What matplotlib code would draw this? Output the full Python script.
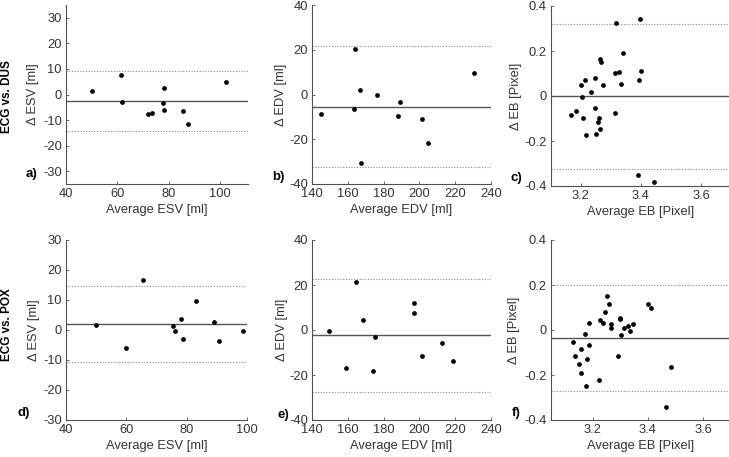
import numpy as np
import matplotlib.pyplot as plt
from matplotlib.ticker import FuncFormatter

# Datos (Bland-Altman): media de ambos metodos y diferencia

# ECG vs. DUS
esv_dus_x = [50.0, 61.4, 61.8, 71.8, 73.7, 77.8, 78.2, 78.4, 85.5, 87.7, 102.5]
esv_dus_y = [1.3, 7.7, -2.9, -7.5, -7.2, -3.2, -6.0, 2.5, -6.3, -11.6, 4.9]
esv_dus_lim = [-2.6, 9.1, -14.4]  # sesgo, limite superior, limite inferior

edv_dus_x = [145.0, 163.8, 163.6, 167.0, 167.4, 176.3, 188.2, 189.3, 201.3, 205.0, 230.3]
edv_dus_y = [-8.9, 20.4, -6.7, 1.9, -30.5, -0.1, -9.4, -3.3, -11.0, -21.6, 9.7]
edv_dus_lim = [-5.4, 21.8, -32.6]

eb_dus_x = [3.317, 3.396, 3.340, 3.262, 3.266, 3.313, 3.326, 3.399, 3.395, 3.332,
            3.273, 3.245, 3.214, 3.199, 3.232, 3.202, 3.165, 3.184, 3.206, 3.245,
            3.261, 3.258, 3.263, 3.216, 3.250, 3.312, 3.391, 3.444]
eb_dus_y = [0.323, 0.343, 0.190, 0.165, 0.151, 0.103, 0.108, 0.111, 0.072, 0.052,
            0.048, 0.079, 0.072, 0.049, 0.018, -0.004, -0.085, -0.067, -0.096, -0.055,
            -0.099, -0.117, -0.147, -0.172, -0.168, -0.075, -0.353, -0.380]
eb_dus_lim = [-0.002, 0.322, -0.326]

# ECG vs. POX
esv_pox_x = [50.0, 59.8, 65.4, 75.4, 76.2, 78.2, 78.7, 83.2, 89.1, 90.7, 98.7]
esv_pox_y = [1.7, -6.0, 16.8, 1.2, -0.3, 3.6, -3.1, 9.6, 2.8, -3.6, -0.2]
esv_pox_lim = [1.95, 14.6, -10.7]

edv_pox_x = [149.3, 158.8, 164.4, 168.7, 174.1, 175.0, 197.0, 197.2, 201.3, 212.6, 218.8]
edv_pox_y = [-0.4, -16.8, 21.4, 4.3, -18.4, -3.3, 12.2, 7.7, -11.7, -5.9, -13.8]
edv_pox_lim = [-2.3, 22.8, -27.4]

eb_pox_x = [3.130, 3.135, 3.151, 3.159, 3.159, 3.173, 3.176, 3.181, 3.189, 3.189,
            3.223, 3.227, 3.236, 3.246, 3.254, 3.261, 3.265, 3.267, 3.298, 3.300,
            3.302, 3.293, 3.312, 3.328, 3.334, 3.345, 3.399, 3.411, 3.483, 3.464]
eb_pox_y = [-0.052, -0.116, -0.153, -0.086, -0.193, -0.019, -0.249, -0.130, 0.030, -0.065,
            -0.224, 0.043, 0.031, 0.081, 0.150, 0.114, 0.025, 0.007, 0.047, 0.055,
            -0.022, -0.114, 0.010, 0.019, -0.003, 0.025, 0.114, 0.098, -0.164, -0.341]
eb_pox_lim = [-0.037, 0.199, -0.270]

plt.rcParams['font.family'] = ['Liberation Sans', 'DejaVu Sans']
plt.rcParams['axes.unicode_minus'] = False

gris = '#505050'
texto = '#333333'
W, H = 729, 457

fig = plt.figure(figsize=(W / 100, H / 100), dpi=100)


def caja(x0, y0, x1, y1):
    # rectangulo en pixeles -> fracciones de figura
    return [x0 / W, 1 - y1 / H, (x1 - x0) / W, (y1 - y0) / H]


'''
Dibujar un panel Bland-Altman
'''
def panel(pos, x, y, lim, xlim, ylim, xt, yt, xlab, ylab, ylab_x):
    ax = fig.add_axes(pos)
    ax.plot(x, y, 'o', color='black', markersize=2.4, zorder=3)
    ax.axhline(lim[0], color='#555555', lw=1.0)
    ax.axhline(lim[1], color='#888888', lw=0.8, ls=(0, (1, 1.5)))
    ax.axhline(lim[2], color='#888888', lw=0.8, ls=(0, (1, 1.5)))
    ax.set_xlim(xlim)
    ax.set_ylim(ylim)
    ax.set_xticks(xt)
    ax.set_yticks(yt)
    fmt = FuncFormatter(lambda v, p: '%g' % round(v, 6))
    ax.xaxis.set_major_formatter(fmt)
    ax.yaxis.set_major_formatter(fmt)
    for s in ['top', 'right']:
        ax.spines[s].set_visible(False)
    for s in ['left', 'bottom']:
        ax.spines[s].set_color(gris)
        ax.spines[s].set_linewidth(0.8)
    ax.tick_params(direction='in', length=2.5, width=0.6, color=gris,
                   labelsize=9.3, labelcolor=texto, pad=3)
    ax.set_xlabel(xlab, fontsize=9.3, color=texto, labelpad=3)
    ax.set_ylabel(ylab, fontsize=9.3, color=texto)
    ax.yaxis.set_label_coords(ylab_x, 0.5)
    return ax


# Fila superior: ECG vs. DUS
panel(caja(66, 5, 248, 184), esv_dus_x, esv_dus_y, esv_dus_lim, (40, 111), (-35, 35),
      [40, 60, 80, 100], [-30, -20, -10, 0, 10, 20, 30], 'Average ESV [ml]', '\u0394 ESV [ml]', -0.148)
panel(caja(312, 5, 491, 184), edv_dus_x, edv_dus_y, edv_dus_lim, (140, 240), (-40, 40),
      [140, 160, 180, 200, 220, 240], [-40, -20, 0, 20, 40], 'Average EDV [ml]', '\u0394 EDV [ml]', -0.14)
panel(caja(551, 6, 731, 186), eb_dus_x, eb_dus_y, eb_dus_lim, (3.1, 3.7), (-0.4, 0.4),
      [3.2, 3.4, 3.6], [-0.4, -0.2, 0, 0.2, 0.4], 'Average EB [Pixel]', '\u0394 EB [Pixel]', -0.161)

# Fila inferior: ECG vs. POX
panel(caja(66, 240, 247, 420), esv_pox_x, esv_pox_y, esv_pox_lim, (40, 100), (-30, 30),
      [40, 60, 80, 100], [-30, -20, -10, 0, 10, 20, 30], 'Average ESV [ml]', '\u0394 ESV [ml]', -0.144)
panel(caja(312, 240, 491, 420), edv_pox_x, edv_pox_y, edv_pox_lim, (140, 240), (-40, 40),
      [140, 160, 180, 200, 220, 240], [-40, -20, 0, 20, 40], 'Average EDV [ml]', '\u0394 EDV [ml]', -0.132)
panel(caja(551, 240, 731, 420), eb_pox_x, eb_pox_y, eb_pox_lim, (3.05, 3.7), (-0.4, 0.4),
      [3.2, 3.4, 3.6], [-0.4, -0.2, 0, 0.2, 0.4], 'Average EB [Pixel]', '\u0394 EB [Pixel]', -0.172)

# Letras de los paneles
letras = ['a)', 'b)', 'c)', 'd)', 'e)', 'f)']
pos_letras = [(32, 174), (278, 177), (516, 178), (24, 413), (283, 415), (516, 413)]
for l, (px, py) in zip(letras, pos_letras):
    fig.text(px / W, 1 - py / H, l, fontsize=9.5, fontweight='bold', ha='center', va='center')

# Etiquetas de fila
fig.text(7 / W, 1 - 97 / H, 'ECG vs. DUS', rotation=90, fontsize=8.5, fontweight='bold',
         ha='center', va='center')
fig.text(7 / W, 1 - 325 / H, 'ECG vs. POX', rotation=90, fontsize=8.5, fontweight='bold',
         ha='center', va='center')

fig.savefig('out.png', dpi=100)
